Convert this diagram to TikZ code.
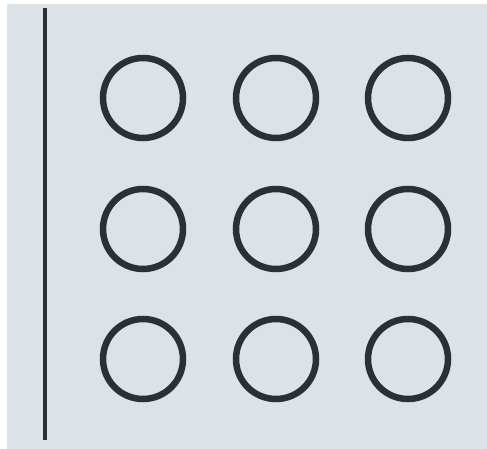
\documentclass[tikz,border=0pt]{standalone}
\definecolor{paper}{HTML}{DCE2E5}
\definecolor{ink}{HTML}{2A3037}
\begin{document}
\begin{tikzpicture}[x=1pt,y=-1pt,
  ring/.style={draw=ink,line width=6.5pt,circle,minimum size=80pt,inner sep=0pt}]
\useasboundingbox (0,0) rectangle (487,449);
\fill[white] (0,0) rectangle (487,449);
\fill[paper] (7,4) rectangle (487,449);
\coordinate (top) at (45,8);
\coordinate (bot) at (45,440);
\draw[ink,line width=3.5pt] (top) -- (bot);
\foreach \c [count=\i] in {143,276,408}{
  \foreach \r [count=\j] in {98,229,359}{
    \node[ring] (c\i\j) at (\c,\r) {};
  }
}
\end{tikzpicture}
\end{document}
